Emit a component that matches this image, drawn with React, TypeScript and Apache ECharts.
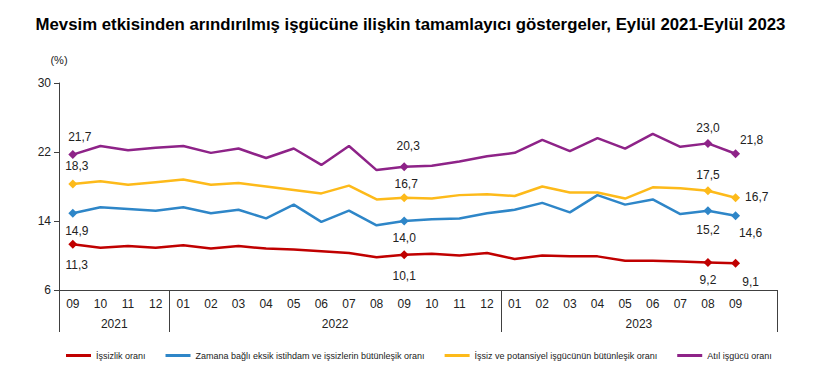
import React, { useEffect, useRef } from "react";
import * as echarts from "echarts";

const months = ["09","10","11","12","01","02","03","04","05","06","07","08","09","10","11","12","01","02","03","04","05","06","07","08","09",""];
const yearLabels = ["2021", "2022", "2023"];
const yearLabelPos = [2, 10, 21];
const yearBounds = [0, 4, 16, 26];
const yTicks = [6, 14, 22, 30];

const seriesNames = [
  "İşsizlik oranı",
  "Zamana bağlı eksik istihdam ve işsizlerin bütünleşik oranı",
  "İşsiz ve potansiyel işgücünün bütünleşik oranı",
  "Atıl işgücü oranı",
];

const unemployment = [11.3, 10.9, 11.1, 10.9, 11.2, 10.8, 11.1, 10.8, 10.7, 10.5, 10.3, 9.8, 10.1, 10.2, 10.0, 10.3, 9.6, 10.0, 9.9, 9.9, 9.4, 9.4, 9.3, 9.2, 9.1];
const timeRelated = [14.9, 15.6, 15.4, 15.2, 15.6, 14.9, 15.3, 14.3, 15.9, 13.9, 15.2, 13.5, 14.0, 14.2, 14.3, 14.9, 15.3, 16.1, 15.0, 17.0, 15.9, 16.5, 14.8, 15.2, 14.6];
const potential = [18.3, 18.6, 18.2, 18.5, 18.8, 18.2, 18.4, 18.0, 17.6, 17.2, 18.1, 16.5, 16.7, 16.6, 17.0, 17.1, 16.9, 18.0, 17.3, 17.3, 16.6, 17.9, 17.8, 17.5, 16.7];
const slack = [21.7, 22.7, 22.2, 22.5, 22.7, 21.9, 22.4, 21.3, 22.4, 20.5, 22.7, 19.9, 20.3, 20.4, 20.9, 21.5, 21.9, 23.4, 22.1, 23.6, 22.4, 24.1, 22.6, 23.0, 21.8];

const markedIdx = [0, 12, 23, 24];
const colors = ["#C00000", "#2E86C8", "#FDBA1A", "#8E2388"];

type LabelPlace = { position: string; offset: number[] };
const labelPlaces: LabelPlace[][] = [
  [
    { position: "bottom", offset: [4, 5] },
    { position: "bottom", offset: [0, 6] },
    { position: "bottom", offset: [0, 2] },
    { position: "bottom", offset: [15, 3] },
  ],
  [
    { position: "bottom", offset: [4, 2] },
    { position: "bottom", offset: [0, 1] },
    { position: "bottom", offset: [0, 4] },
    { position: "bottom", offset: [15, 2] },
  ],
  [
    { position: "top", offset: [4, -2] },
    { position: "top", offset: [2, 2] },
    { position: "top", offset: [0, 0] },
    { position: "right", offset: [0, -1] },
  ],
  [
    { position: "top", offset: [7, -2] },
    { position: "top", offset: [4, -5] },
    { position: "top", offset: [0, 0] },
    { position: "top", offset: [16, 2] },
  ],
];

const FONT = "'Liberation Sans', Arial, sans-serif";

function buildData(values: number[], si: number) {
  return values.map((v, i) => {
    const k = markedIdx.indexOf(i);
    if (k < 0) return { value: v };
    const lp = labelPlaces[si][k];
    return {
      value: v,
      label: {
        show: true,
        position: lp.position,
        offset: lp.offset,
        formatter: (p: any) => Number(p.value).toFixed(1).replace(".", ","),
        fontSize: 12,
        color: "#222",
        fontFamily: FONT,
      },
    };
  });
}

export default function App() {
  const ref = useRef<HTMLDivElement>(null);
  useEffect(() => {
    if (!ref.current) return;
    const chart = echarts.init(ref.current, undefined, { renderer: "svg" });
    const all = [unemployment, timeRelated, potential, slack];
    chart.setOption({
      animation: false,
      textStyle: { fontFamily: FONT },
      title: {
        text: "Mevsim etkisinden arındırılmış işgücüne ilişkin tamamlayıcı göstergeler, Eylül 2021-Eylül 2023",
        left: "center",
        top: 11,
        textStyle: { fontSize: 16.8, fontWeight: "bold", color: "#000", fontFamily: FONT },
      },
      legend: {
        left: 61,
        top: 346,
        itemWidth: 25,
        itemHeight: 3,
        itemGap: 20,
        icon: "rect",
        textStyle: { fontSize: 9, color: "#222", fontFamily: FONT },
        data: seriesNames,
      },
      grid: { left: 59, right: 44, top: 83, bottom: 84 },
      xAxis: [
        {
          type: "category",
          data: months,
          boundaryGap: true,
          axisLine: { show: true, lineStyle: { color: "#404040", width: 1 } },
          axisTick: { show: false },
          axisLabel: { fontSize: 12, color: "#222", margin: 8, interval: 0, fontFamily: FONT },
          splitLine: { show: false },
        },
        {
          type: "value",
          position: "bottom",
          min: 0,
          max: 26,
          axisLine: { show: false },
          axisTick: { show: true, customValues: yearBounds, length: 42, lineStyle: { color: "#404040", width: 1 } },
          axisLabel: {
            customValues: yearLabelPos,
            formatter: (v: number) => yearLabels[yearLabelPos.indexOf(v)] ?? "",
            fontSize: 12,
            color: "#222",
            margin: 28,
            fontFamily: FONT,
          },
          splitLine: { show: false },
        },
      ],
      yAxis: {
        type: "value",
        min: 6,
        max: 30,
        name: "(%)",
        nameLocation: "end",
        nameGap: 18,
        nameTextStyle: { fontSize: 11, color: "#222", align: "center", fontFamily: FONT },
        axisLine: { show: true, lineStyle: { color: "#404040", width: 1 } },
        axisTick: { show: true, customValues: yTicks, length: 5, lineStyle: { color: "#404040" } },
        axisLabel: { customValues: yTicks, fontSize: 12, color: "#222", margin: 8, fontFamily: FONT },
        splitLine: { show: false },
      },
      series: all.map((vals, si) => ({
        name: seriesNames[si],
        type: "line",
        xAxisIndex: 0,
        yAxisIndex: 0,
        data: buildData(vals, si),
        color: colors[si],
        lineStyle: { width: 2.5, color: colors[si] },
        itemStyle: { color: colors[si] },
        symbol: (_v: any, p: any) => (markedIdx.includes(p.dataIndex) ? "diamond" : "none"),
        symbolSize: 9,
        showSymbol: true,
        showAllSymbol: true,
        z: 2 + si,
      })),
    });
    return () => chart.dispose();
  }, []);
  return <div ref={ref} style={{ width: 821, height: 374, position: "absolute", left: 0, top: 0 }} />;
}
